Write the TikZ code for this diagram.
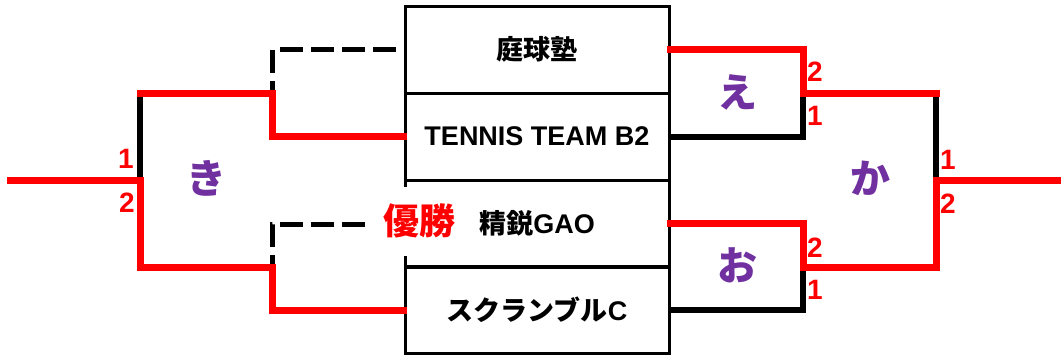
\documentclass[tikz,border=0pt]{standalone}
\usepackage{fontspec}
\setmainfont{Liberation Sans}
\newfontfamily\jp{Noto Sans CJK JP}
\definecolor{kpurple}{HTML}{7030A0}
\begin{document}
\begin{tikzpicture}[x=1pt,y=-1pt,
  team/.style={draw, line width=3pt, minimum width=264pt, minimum height=87pt, inner sep=0pt, font=\fontsize{27}{30}\selectfont\bfseries},
  win/.style={draw=red, line width=7pt, line cap=rect, line join=miter},
  lose/.style={draw=black, line width=6pt, line cap=rect, line join=miter},
  bye/.style={draw=black, line width=5pt, dash pattern=on 23pt off 8pt},
  score/.style={text=red, font=\fontsize{28}{30}\selectfont\bfseries, inner sep=0pt},
  match/.style={text=kpurple, font=\jp\fontsize{40}{44}\selectfont\bfseries, inner sep=0pt}]
\useasboundingbox (0,0) rectangle (1061,356);
% team boxes
\node[team] (t1) at (537,49.5) {\jp 庭球塾};
\node[team] (t2) at (537,136.5) {TENNIS TEAM B2};
\node[team] (t3) at (537,223.5) {\jp 精鋭\rmfamily GAO};
\node[team] (t4) at (537,310) {\jp スクランブル\rmfamily C};
% coordinates
\coordinate (L0) at (10,180);
\coordinate (LJ) at (140,180);
\coordinate (LT) at (140,93);
\coordinate (LB) at (140,267);
\coordinate (LA) at (272,93);
\coordinate (LC) at (272,267);
\coordinate (D2) at (365,224);
\coordinate (RA) at (803,93);
\coordinate (RB) at (803,267);
\coordinate (RT) at (936,93);
\coordinate (RJ) at (936,180);
\coordinate (RM) at (936,267);
\coordinate (R0) at (1065,180);
% byes
\draw[bye] ([xshift=-8pt]t1.west) -| (LA);
\draw[bye] (D2) -| (LC);
% losing lines
\draw[lose] (LJ) -- (LT);
\draw[lose] (t2.east) -| (RA);
\draw[lose] (t4.east) -| (RB);
\draw[lose] (RT) -- (RJ);
% winning lines
\draw[win] (t2.west) -| (LA) -- (LT);
\draw[win] (t4.west) -| (LC) -- (LB) -- (LJ) -- (L0);
\draw[win] (t1.east) -| (RA) -- (RT);
\draw[win] (t3.east) -| (RB) -- (RM) -- (RJ) -- (R0);
% champion label
\node[fill=white, text=red, font=\jp\fontsize{36}{40}\selectfont\bfseries, minimum height=69pt, inner xsep=3pt, inner ysep=0pt] (champ) at (419,221) {優勝};
% scores
\node[score] (s1) at (126,159) {1};
\node[score] (s2) at (127,203) {2};
\node[score] (s3) at (815,72) {2};
\node[score] (s4) at (815,116) {1};
\node[score] (s5) at (948,160) {1};
\node[score] (s6) at (948,204) {2};
\node[score] (s7) at (815,248) {2};
\node[score] (s8) at (815,290) {1};
% match labels
\node[match] (mki) at (206,178) {き};
\node[match] (me) at (737,92) {え};
\node[match] (mo) at (737,265) {お};
\node[match] (mka) at (870,178) {か};
\end{tikzpicture}
\end{document}
